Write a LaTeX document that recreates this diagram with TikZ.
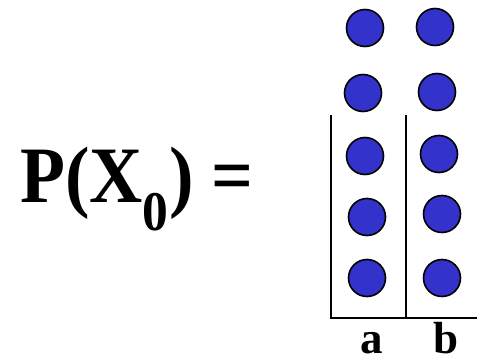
\documentclass[tikz,border=0pt]{standalone}
\usepackage{fontspec}
\setmainfont{Liberation Serif}
\definecolor{ballblue}{RGB}{51,51,204}
\begin{document}
\begin{tikzpicture}[x=1pt,y=-1pt,
  ball/.style={circle,draw=black,line width=1.6pt,fill=ballblue,minimum size=37pt,inner sep=0pt},
  frame/.style={line width=1.2pt,black},
  lbl/.style={inner sep=0pt,anchor=base,font=\fontsize{45}{50}\selectfont\bfseries}]
\useasboundingbox (0,0) rectangle (477,364);
\node[inner sep=0pt,anchor=base west,xscale=0.92,transform shape,font=\fontsize{80}{90}\selectfont\bfseries] (eq) at (20,202) {P(X\textsubscript{0}) =};
% column a
\node[ball] (a1) at (365,28) {};
\node[ball] (a2) at (363,93) {};
\node[ball] (a3) at (365,156) {};
\node[ball] (a4) at (367,217) {};
\node[ball] (a5) at (367,278) {};
% column b
\node[ball] (b1) at (435,27) {};
\node[ball] (b2) at (437,92) {};
\node[ball] (b3) at (439,154) {};
\node[ball] (b4) at (442,214) {};
\node[ball] (b5) at (442,278) {};
% frame
\coordinate (tl) at (331,115);
\coordinate (bl) at (331,318);
\coordinate (tm) at (406,115);
\coordinate (bm) at (406,318);
\coordinate (br) at (477,318);
\draw[frame] (tl) -- (bl) -- (br);
\draw[frame] (tm) -- (bm);
\node[lbl] (la) at (372,353) {a};
\node[lbl] (lb) at (446,353) {b};
\end{tikzpicture}
\end{document}
